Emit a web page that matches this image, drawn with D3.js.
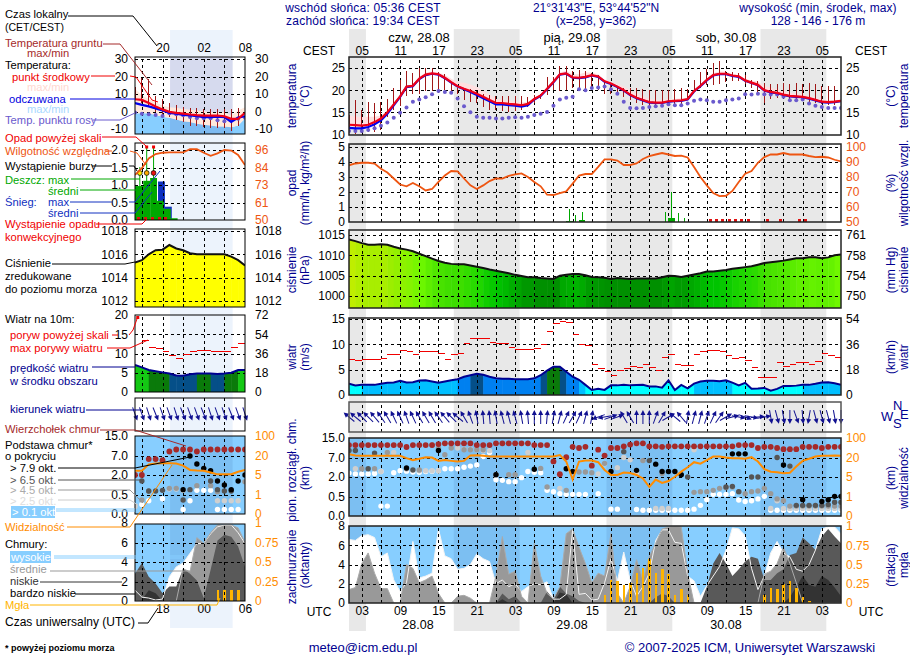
<!DOCTYPE html>
<html>
<head>
<meta charset="utf-8">
<title>meteogram</title>
<script src="https://cdn.jsdelivr.net/npm/d3@7"></script>
<style>
body { margin: 0; background: #fff; }
svg { display: block; }
text { font-family: "Liberation Sans", Arial, sans-serif; font-size: 12px; }
.grid line { stroke: #000; stroke-width: 1; stroke-dasharray: 3 3; shape-rendering: crispEdges; }
.grid path, .lab path { display: none; }
.lab line { display: none; }
.crisp { shape-rendering: crispEdges; }
</style>
</head>
<body>
<svg id="chart" width="910" height="660"></svg>
<script>
// hourly values, main panel: hour 0 = 01 UTC 28.08, last = 06 UTC 31.08
var tempMid = [12.2,12.1,12,12.2,12.8,13.6,15,16.8,18.6,20.8,21,22.6,23.5,23.8,23.6,22.8,21.8,20.9,20.3,19.8,19.2,18.5,17.8,17.1,17.1,16.9,16.8,16.6,16.9,18,18.8,20.3,21.9,23.6,23.8,22.9,22.8,23,23.4,23.1,22,21.5,20.8,20,19,18.3,17.8,17.3,17.2,17.2,17.5,17.6,17.7,18,19.8,21,22.3,23.4,23.7,23.7,23.3,23.1,22.2,21.7,21.2,20,19.6,19.4,19,18.7,18.6,18.5,18.2,17.8,17.4,17.3,17.4,17.6];
var tempMax = [14.3,14,14,14,14,14.3,15.4,17.2,19,21,21.4,23,24,24.2,24,23.4,22.6,21.8,21.7,21.3,20.7,19.9,19,18,17.8,17.6,17.4,17.2,17.4,18.3,19,20.6,22.2,24,24.4,23.6,23.6,24,24,23.6,22.4,21.8,21.4,20.8,20,19.2,18.6,18,17.8,17.8,18,18,18.2,18.3,20,21.3,22.7,23.9,24.2,24.2,23.6,23.3,22.6,22.2,21.9,21,20.6,20.2,19.8,19.4,19.2,19,18.7,18.2,17.8,17.6,17.7,17.9];
var tempFeels = [11.5,11.4,11.4,11.7,12.3,13.2,14.7,16.6,18.5,20.7,20.9,22.5,23.4,23.7,23.5,22.7,21.7,20.8,20.2,19.6,18.9,18.2,17.5,16.8,16.8,16.6,16.5,16.3,16.6,17.9,18.7,20.2,21.8,23.5,23.7,22.8,22.7,22.9,23.3,23,21.9,21.4,20.7,19.9,18.9,18.2,17.7,17.2,17.1,17.1,17.4,17.5,17.6,17.9,19.7,20.9,22.2,23.3,23.6,23.6,23.2,23,22.1,21.6,21.1,19.9,19.5,19.3,18.9,18.6,18.5,18.4,18.1,17.7,17.3,17.2,17.3,17.5];
var tempDew = [10.8,10.8,10.8,11,11.4,12,12.7,13.8,14.9,16.1,17.4,17.9,18.4,19.1,19.8,19.6,19.4,18.1,16.4,15,14,13.8,13.8,13.6,13.6,13.8,13.9,13.8,14,14.4,14.7,15.1,16.5,17.9,18.3,18.5,20.2,20,20.5,20.6,20.8,20.2,19.2,17.4,16,15.9,16,16.2,16.4,16.5,16.8,16.6,16.6,17,17.6,17.9,17.7,17.4,17.4,17.7,17.9,18.1,19.1,19,19.2,19.1,19,19,18.5,17.7,17.7,17.9,17,16.5,16.2,16,16,16];
var groundMax = [14.5,17.7,15.5,17.4,17,17.4,17.9,20.4,22.2,24.4,23.8,24.9,25.1,24.9,24.1,23.6,21.7,20.6,20,20.3,19.8,19.2,18.9,18.6,18.7,18.7,18.6,18.6,18.5,18.9,19.1,22.9,23,25.4,25.4,24.3,24.5,24.4,23.9,23.4,21.9,21.5,20.6,20.6,20.4,20.4,20.2,20,20.1,20.1,20,20.2,20.4,20.2,22.2,24.1,24.7,26.2,26.5,24.4,24.1,23.9,23.4,22.2,22.1,21.7,21.4,21.5,21.7,21.5,21.7,21.5,21.7,21.3,21,21,20.9,20.6];
var groundMin = [10.6,10.2,10.4,10.6,10.6,11,14,15.5,16.4,18.7,19.2,19.1,19.8,19.8,20,20,19.8,19.1,17.7,17.4,17,16.2,15.6,15.5,15.3,15.1,15.3,15.5,16.2,17,18.1,18.9,20,19.8,20,20.4,20.4,20.2,20.4,20,19.2,19.2,18.9,18.5,17.7,17,16.6,16.2,16.1,16.2,16.6,16.6,16.6,17.7,20,20.6,21.1,21.1,21.5,21.9,22.1,22.1,21.4,20.4,18.9,17,18.1,18.3,18.5,17.7,17.7,17.7,17.3,17,16.9,16.6,16.6,16.6];
var humidity = [87.8,89,89.5,89.5,88.9,85.5,83,79,75,73.8,76,73.8,71,72,76.7,81,84,83.8,79,74.4,72,74.4,77.3,79,78.9,80.7,81.8,82.4,80,76.7,73.8,68.2,68,69.3,70.4,75.6,81,82,82,86.7,91.8,91.8,91,88,88,89,92,94,95,96,95,94,94.2,93,86.7,80,74.4,69.3,67.3,67.5,70.7,76.7,82.2,84,89.5,93.3,95,95,96,95,95,95,94,93.3,93.5,93,91.5,90.4];
var rainMax = [[34.5,0.9],[35.5,0.45],[36.5,0.65],[49.5,0.65],[50.5,2],[51.5,0.6],[52.5,0.3]];
var rainMean = [[34.5,0.08],[36.5,0.12],[50.5,0.25]];
var convHours = [56.5,57.5,58.5,59.5,60.5,61.5,62.5,65.5,67.5,70.5,71.5];
var pressure = [1013.9,1013.5,1013,1012.6,1012.6,1012.7,1012.6,1012.1,1011.7,1011.4,1011,1010.4,1009.8,1009.2,1008.6,1008.2,1007.9,1007.8,1007.8,1007.5,1007.2,1006.9,1006.5,1006.2,1005.9,1005.6,1005.2,1004.9,1004.6,1004.6,1004.4,1004.3,1004.2,1005,1005.2,1005.4,1005.4,1005.1,1004.7,1004.6,1004.5,1004.2,1004.4,1004.3,1004.2,1004.3,1004.3,1004.3,1004.3,1004.6,1005,1004.9,1004.7,1005,1005.3,1005.6,1006,1006,1006.2,1006.4,1006.7,1006.9,1007.1,1007.3,1007.7,1008.1,1008.3,1008.5,1008.7,1009,1009.3,1009.3,1009.5,1009.5,1009.3,1009.5,1010,1010.2];
var windSpeed = [2.25,1.9,2,2,2,2.2,2.4,2.45,2.8,2.45,2.5,2.85,2.9,2.65,2.4,2.65,2.9,3.1,3.6,3.9,4.2,4,3.6,3.3,3.2,3.2,3.1,3.1,3.1,3.3,3.9,4.8,5.6,5.6,4.6,3.6,3,2,1,1.25,1,1.9,1.9,2,1.9,1.95,2,1.7,1.7,1.45,2.9,1,2,1.3,2.25,2.65,2.8,2.8,2.7,2.9,2.45,1.9,2.4,1.25,1.3,1.4,0.85,1.2,1.8,1.8,1.85,2,2,2.2,2.45,2.5,2.3,2];
var windGust = [7.1,6.9,7.1,7.1,7.1,7.3,7.9,7.9,8.85,8.65,7.9,8.65,8.65,8.65,8.1,7.1,7.9,8.1,10.1,11.1,11.1,11.1,10.4,10.25,10.1,9.45,9.05,9.05,9.05,9.25,9.9,12.6,14.2,14.6,14.3,12,10,9.85,6.1,5.3,4.55,3.9,4.9,5.3,5.7,5.5,6.1,5.5,4.75,7.5,7.9,6.1,5.9,5.9,7.9,8.5,8.85,8.85,8.65,7.7,7.3,7.5,6.9,5.5,3.5,3.4,3.5,6.5,5.7,6.1,6.5,6.5,6.1,6.7,8.1,7.7,7.5];
var windAngle = [-50,-50,-45,-45,-40,-35,-30,-25,-25,-20,-25,-30,-30,-30,-35,-40,-45,-50,-30,-20,-10,-5,-5,-10,-15,-15,-15,-10,-5,0,0,5,10,15,25,30,25,15,10,-110,-100,70,70,-30,-30,0,0,0,20,30,60,-50,-40,10,15,15,20,25,35,60,75,100,110,100,85,80,170,165,170,180,160,175,190,165,165,165,170,180];
var baseTop = [12.1,12.1,12.1,12.1,12.1,12.1,12.1,12.1,12.1,11.3,12.1,12.1,12.1,12.1,12.5,12.8,12.8,12.8,12.8,12.8,12.1,12.1,12.1,12.8,12.8,12.8,12.8,12.8,12.8,12.1,12.1,12.1,6,2.7,7.1,11.4,10.9,11.4,4.9,10.2,7.8,10.9,10.9,11.6,12.3,12.8,12.8,11.6,11.6,11.4,11.6,11.6,11.6,11.6,11.6,11.6,11.6,11.6,11.6,11.6,11.6,12.1,12.1,12.1,10.9,11.4,11.4,10.9,10.4,10.4,10.4,11.4,11.4,11.4,10.9,11.4,11.4,11.4];
var baseBlack = [[9,4.3],[14,9.9],[23,2.6],[29,4],[34,4.1],[35,3.4],[41,3.4],[45,3.7],[48,5.3],[49,3.4],[50,3.4],[51,3.4],[52,2.6],[60,8.5],[61,8.5],[62,8.5],[68,5.1],[71,0.43],[74,0.38],[75,0.43],[76,0.55],[77,0.55]];
var baseDark = [[0,9.9],[1,9.9],[3,4.1],[4,8.8],[10,3.8],[43,9.4],[47,6.2],[53,2],[59,1.25],[60,1.3],[61,0.9],[63,2],[64,2],[67,7],[69,4.8],[70,0.28],[71,0.28],[72,0.28],[73,0.28],[74,0.28],[75,0.3],[76,0.36],[77,0.36]];
var baseGrey = [[2,4.1],[4,4.1],[9,4.1],[11,3.8],[6,9.1],[13,12.1],[14,10.7],[15,8.1],[16,10.9],[18,10.2],[19,10.2],[20,10.2],[21,10.2],[23,2.6],[25,2.6],[26,2.6],[30,4.2],[31,1.25],[34,1],[36,3.3],[37,3.3],[38,3.1],[40,5.5],[46,6.2],[49,2.9],[54,0.85],[55,0.9],[56,0.9],[57,1],[58,1.15],[59,1.2],[60,1.25],[61,0.9],[62,0.75],[63,0.9],[64,0.95],[65,1.15],[66,0.75],[67,0.45],[68,0.4],[69,0.26],[70,0.26],[71,0.26],[72,0.26],[73,0.26],[74,0.26],[75,0.26],[76,0.26],[77,0.26]];
var baseLight = [[1,4.1],[5,3.4],[6,9.1],[7,9.1],[11,3.6],[12,3.6],[13,3.6],[14,3.6],[17,10.9],[18,10.4],[19,10.4],[20,10.2],[21,9.8],[22,9.8],[28,9.1],[33,1.15],[39,2.8],[40,5.4],[42,4.4],[43,7],[44,6.4],[45,2.9],[48,0.2],[49,0.2],[50,0.2],[54,10.2],[66,0.2],[67,0.4],[68,0.2],[69,0.2],[70,0.2],[71,0.2],[72,0.2],[73,0.2],[74,0.2],[75,0.2],[76,0.2],[77,0.2]];
var baseWhite = [[0,3],[1,2.8],[2,2.8],[3,2.8],[4,2.9],[5,3.4],[5,0.26],[6,0.26],[7,3.1],[8,3.6],[9,3.5],[10,3.3],[11,3.2],[12,3.4],[13,3.5],[14,3.6],[15,4.1],[16,4.1],[17,4.1],[18,4.5],[19,4.8],[20,5.1],[21,7.4],[22,9.1],[23,1.8],[24,1.75],[25,1.65],[26,1.65],[27,1.95],[28,3.4],[29,3.2],[30,3.1],[31,1],[32,0.9],[33,0.75],[34,0.7],[35,0.7],[36,0.7],[37,0.7],[39,0.75],[41,0.18],[42,0.18],[45,0.17],[46,0.15],[47,0.15],[48,0.15],[49,0.15],[50,0.15],[51,0.15],[52,0.15],[53,0.15],[54,0.18],[55,0.28],[56,0.43],[57,0.7],[58,0.7],[59,0.7],[60,0.75],[61,0.42],[62,0.38],[63,0.4],[64,0.45],[65,0.55],[66,0.15],[67,0.15],[68,0.15],[69,0.15],[70,0.15],[71,0.15],[72,0.15],[73,0.15],[74,0.15],[75,0.15],[76,0.15],[77,0.15]];
var visibility = [33.8,28,27,27,27,27,27,27,27,19.5,18,19,21.4,20,17.4,18,17.4,16.9,17.4,28,29.7,27,24,24,24,24,24,24,24,24,24,24,24,29.7,16.9,4.5,16.9,17.6,17.6,16.4,10.4,6.6,6.6,8.4,8,6.6,4.7,3,4.5,3.8,4.2,5.2,9.1,12.5,16.4,15.3,18,24,24,20,19.5,19.5,19,21.4,16.9,11,9.1,8.6,7.8,8.2,13,17.4,19,24,27,27,28,27];
var cloudHigh = [6.6,6.5,7,7.1,6.8,4.8,5.2,2.4,1.2,2.1,6.4,2.6,2.8,3.1,7.7,4.9,4.6,3.5,3.6,4,5.1,4.6,4.3,2,2.4,1.7,2,1.2,1.7,2,1.9,2.2,0.4,0.4,0.9,7.6,0.9,1,0.3,0.4,2.1,4.6,2.3,5.3,2.4,0.7,1.7,3.1,6.5,7.6,7.6,6.3,6.2,2.8,2.3,0.7,1.8,2.8,3.8,5.5,7.8,7.7,7,3.6,1.4,2.8,5.2,6.4,5.2,4.8,3.5,3.3,4,5.5,7.7,7.9,7.9,7.2];
var cloudMid = [1.4,1.6,4.1,5.2,3.1,1.5,1.5,0,0,4,3.6,2.1,2.4,2.8,1,0,0,0.7,0.8,0.5,0,0,0,2.8,6.9,3,3.3,0.7,0,6.2,2.8,1,0.4,1.7,7.2,7.7,5.8,4.1,2.1,3.1,2.8,7.2,1,0,1.7,4.5,2.4,4.8,6.2,7.7,7.9,8,7.9,3.1,0,0,0,0,0,0,0,0,0,0,0,3,3.3,4.1,5.8,4.1,2.1,0,0,0,0,0,0,0];
var cloudLow = [0,0,0,0,0,0,0,0,0,0,0,0,0,0,0,0,0,0,0,0,0,0,0,0,1,0.4,0.7,0,0,0,0,1.2,0.4,1.7,1,0.7,0.2,0,0,0,0,0,0,0,0,0,0,0,0.6,1,0.7,0,0,0,0,0,1.7,4.1,5.2,4.1,2.8,3.5,4.3,4.8,4.6,2.4,2.4,3.1,3.5,5,5.2,6.8,6.2,5.5,6.9,7.7,6.9,6.2];
var cloudVeryLow = [0,0,0,0,0,0,0,0,0,0,0,0,0,0,0,0,0,0,0,0,0,0,0,0,0.4,0,0,0,0,0,0,0,0,1.1,0.9,0,0,0,0,0,0,0,0,0,0,0,0,0,0,0,0,0,0,0,0,0,0,0,0,0,0,0,0,0,0,0,0,0,0,0.6,1.7,2.8,1.9,1.7,2.8,2.4,1.6,0.7];
var fogBars = [[40,0.11],[41,0.3],[42,0.28],[43,0.23],[44,0.26],[45,0.39],[46,0.45],[47,0.57],[48,0.39],[49,0.44],[50,0.38],[51,0.1],[52,0.18],[53,0.11],[65,0.1],[66,0.2],[67,0.18],[68,0.25],[69,0.28],[70,0.2],[71,0.08],[72,0.03]];

// left legend panel: hour 0 = 14 UTC, 16 hours
var leftMid = [7,6.6,4.8,2.9,1.2,-0.2,-0.8,-1.2,-1.7,-2.1,-2.3,-2.3,-2.3,-2.7,-4.2,-4.2,-0.8];
var leftMax = [13,9.1,7.2,5.3,3.4,2.5,2.1,1.5,0.95,0.6,0.2,-0.4,-0.4,-0.4,-2.3,0.6,2.5];
var leftFeels = [4.8,3.8,2.9,1.8,0.6,-0.8,-1.3,-1.9,-2.3,-2.7,-3.2,-3.2,-2.9,-3.2,-6,-3.5,-2.7];
var leftLow = [-1,-1,-1,-2,-3,-3.5,-4.5,-5.5,-6,-7,-7.5,-8,-8.5,-8.5,-9,-8,-4];
var leftDew = [-0.5,-1.3,-1.6,-2,-2.6,-1,-1.6,-2.2,-3.2,-3.8,-3.8,-3.8,-5,-5.6,-5,-4.2,-3.5];
var leftGroundMax = [14,19,18.5,9,7,5,4,2.5,2,2,1.5,1.5,1.5,1.5,1.5,2,2.5];
var leftGroundMin = [7,5,3,0,-2,-3,-5,-6,-8,-8.5,-9,-9.5,-9.5,-9.5,-11,-8,-3];
var leftHumidity = [79.6,84,90.5,93.3,94.2,94.4,94.4,94.4,96.6,96.6,94.2,92.2,93.8,96,95.6,92.7,86.1];
var leftRain = [0.97,1.12,1.2,0.55,0.32,0.05];
var leftSnow = [0,0,0,1.1,0.38,0];
var leftStormHours = [0.5,1.5,2.5];
var leftStormColors = ["#ffee00","#ffaa00","#ee1111"];
var leftRainOver = [1.5,2.5];
var leftConv = [0.5,1.5,2.5,3.5,4.5];
var leftPressure = [1015.3,1015.5,1016,1016.35,1016.4,1016.8,1016.5,1016.35,1016.1,1016,1016,1016,1016,1016,1015.8,1015.5,1015.05];
var leftWind = [7,6.4,5.7,5.4,5.1,4.8,4.3,4.2,4.6,4.8,4.8,4.8,4.7,4.8,5,5.7,5.7];
var leftGust = [null,13.5,11.6,11.4,10.5,9.5,8.8,9.65,10.5,10.8,10.8,10.5,10.5,10.5,11.6,12.6,13];
var leftGustOver = [0.4];
var leftAngle = [160,160,162,158,160,160,162,158,160,160,158,162,160,160,158,160,162];
var leftBaseTop = [[0,2],[1,2],[2,6.2],[3,6.2],[4,5.9],[5,8.8],[6,9.6],[7,9.6],[8,9.6],[9,8.8],[10,9.6],[11,9.6],[12,9.6],[13,9.6],[14,9.6],[15,9.6],[16,9.6]];
var leftBaseBlack = [[7,0.9],[8,7],[9,4.9],[10,3.75],[11,3.1],[12,1.55],[13,1.25],[14,0.9],[15,1.55],[16,2]];
var leftBaseDark = [[1,1.55],[2,0.8],[3,0.8],[4,0.85],[7,0.37],[8,0.9],[11,1.55],[12,0.9],[13,0.8],[14,0.8]];
var leftBaseGrey = [[1,0.37],[2,0.78],[5,1],[6,1],[9,1.2],[11,1.2],[12,0.75],[16,1.5]];
var leftBaseLight = [[0,0.2],[5,0.95],[6,0.95],[7,0.85],[12,0.35],[13,0.35],[14,0.35],[15,0.35]];
var leftBaseWhite = [[1,0.25],[2,0.35],[4,0.4],[7,0.12],[8,0.35],[9,0.85],[10,0.85],[11,0.85],[12,0.12],[13,0.12],[14,0.12],[15,0.12]];
var leftVisibility = [8.4,8.4,13.4,14,14.2,14.2,14,12.4,9,8.6,8.4,7,5.5,5.5,5.6,7.6,8.9];
var leftCloudHigh = [1.1,0.4,0.3,0.1,0.2,2.5,3.5,3.9,4.9,5.9,5.9,6.9,7.6,7.8,7.8,7,5.9];
var leftCloudMid = [0,0,0,0,0,0,0,3.3,3,6.5,5.9,7,7.8,7.8,7.8,7.5,6];
var leftCloudLow = [2.8,3.9,2.5,1.8,0.8,1.5,1.5,3.3,2.8,2.1,0.3,3.2,6.2,6.8,6.6,5.6,3.5];
var leftCloudVeryLow = [0,0.1,1.1,0.8,0,0,0,0,0,0,0,0,0,0,0,0,0];
var leftFog = [[12,0.14],[13,0.14],[14,0.14],[15,0.14]];

// tick labels
var cestLabels = ["05","11","17","23","05","11","17","23","05","11","17","23","05"];
var utcLabels = ["03","09","15","21","03","09","15","21","03","09","15","21","03"];
var labelHours = [2,8,14,20,26,32,38,44,50,56,62,68,74];
var gridHours = [2,5,8,11,14,17,20,23,26,29,32,35,38,41,44,47,50,53,56,59,62,65,68,71,74];
var leftGridHours = [1,4,7,10,13];
var leftLabelHours = [4,10,16];
var leftCestLabels = ["20","02","08"];
var leftUtcLabels = ["18","00","06"];
var tempTicks = [10,15,20,25];
var rainTicks = [0,1,2,3,4,5];
var humidityLabels = ["50","60","70","80","90","100"];
var pressureTicks = [1000,1005,1010,1015];
var mmHgLabels = ["750","754","758","761"];
var windTicks = [0,5,10,15];
var kmhLabels = ["0","18","36","54"];
var baseTicks = [0,0.5,2,7,15];
var baseLabels = ["0.0","0.5","2.0","7.0","15.0"];
var visLabels = ["0","1","5","20","100"];
var oktaTicks = [0,2,4,6,8];
var fogLabels = ["0","0.25","0.5","0.75","1"];
var leftTempTicks = [-10,0,10,20,30];
var leftRainTicks = [0,0.5,1,1.5,2];
var leftRainLabels = ["0.0","0.5","1.0","1.5","2.0"];
var leftHumLabels = ["50","61","73","84","96"];
var leftPressureTicks = [1012,1014,1016,1018];
var leftWindTicks = [0,5,10,15,20];
var leftKmhLabels = ["0","18","36","54","72"];

var NAVY = "#000090", ORANGE = "#ff8c00", HUM = "#ee5511", BROWN = "#a52a2a", DEW = "#6a5acd";
var PINK = "#ffdfe0", SKY = "#87ceff";

var svg = d3.select("#chart");
var clipCount = 0;

function txt(x, y, s, color, anchor) {
    return svg.append("text").attr("x", x).attr("y", y)
        .attr("fill", color || "#000").attr("text-anchor", anchor || "start").text(s);
}

// legend captions are a bit narrower than the axis text
function cap(x, y, s, color, size) {
    return txt(x, y, s, color).style("font-size", (size || 11.2) + "px");
}

function rot(x, y, s, color) {
    return svg.append("text").attr("transform", "translate(" + x + "," + y + ") rotate(-90)")
        .attr("fill", color || NAVY).attr("text-anchor", "middle").text(s);
}

function leader(points, color, width) {
    svg.append("path").attr("d", d3.line()(points)).attr("fill", "none")
        .attr("stroke", color).attr("stroke-width", width || 1);
}

// one framed plot: clip group, y axis labels on both sides, dashed grid
function makePanel(x, y, top, opts) {
    var x0 = x.range()[0], x1 = x.range()[1];
    var bottom = opts.bottom;
    var id = "clip" + (clipCount++);
    svg.append("clipPath").attr("id", id).append("rect")
        .attr("x", x0).attr("y", top).attr("width", x1 - x0).attr("height", bottom - top);
    var g = svg.append("g").attr("clip-path", "url(#" + id + ")");
    return {
        g: g, x: x, y: y, top: top, bottom: bottom, x0: x0, x1: x1,
        grid: function () {
            g.append("g").attr("class", "grid").attr("transform", "translate(" + x0 + ",0)")
                .call(d3.axisLeft(y).tickValues(opts.gridY || opts.ticks).tickSize(-(x1 - x0)).tickFormat(""));
            g.append("g").attr("class", "grid").attr("transform", "translate(0," + bottom + ")")
                .call(d3.axisBottom(x).tickValues(opts.gridX).tickSize(-(bottom - top)).tickFormat(""));
        },
        finish: function () {
            svg.append("rect").attr("x", x0).attr("y", top).attr("width", x1 - x0).attr("height", bottom - top)
                .attr("fill", "none").attr("stroke", opts.frame || "#222").attr("stroke-width", opts.frameWidth || 1.5);
            var la = svg.append("g").attr("class", "lab").attr("transform", "translate(" + opts.leftX + ",0)")
                .call(d3.axisLeft(y).tickValues(opts.ticks).tickSize(0).tickPadding(0)
                    .tickFormat(function (d, i) { return opts.leftLabels ? opts.leftLabels[i] : d; }));
            la.selectAll("text").attr("fill", "#000");
            var ra = svg.append("g").attr("class", "lab").attr("transform", "translate(" + opts.rightX + ",0)")
                .call(d3.axisRight(y).tickValues(opts.ticks).tickSize(0).tickPadding(0)
                    .tickFormat(function (d, i) { return opts.rightLabels ? opts.rightLabels[i] : d; }));
            ra.selectAll("text").attr("fill", opts.rightColor || "#000");
            la.selectAll("text").style("font-size", "12px");
            ra.selectAll("text").style("font-size", "12px");
        }
    };
}

function nightOverlay(p, bands, color) {
    p.g.selectAll(null).data(bands).enter().append("rect")
        .attr("x", function (d) { return p.x(d[0]); }).attr("y", p.top)
        .attr("width", function (d) { return p.x(d[1]) - p.x(d[0]); }).attr("height", p.bottom - p.top)
        .attr("fill", color);
}

function drawTemp(p, d) {
    var x = p.x, y = p.y;
    if (d.low) {
        p.g.append("path").datum(d.low)
            .attr("d", d3.area().x(function (v, i) { return x(i); }).y0(p.bottom).y1(function (v) { return y(v); }))
            .attr("fill", SKY);
        nightOverlay(p, d.bands, d.overlay);
    }
    p.g.append("path").datum(d.max)
        .attr("d", d3.area().x(function (v, i) { return x(i); })
            .y0(function (v, i) { return y((d.low || d.mid)[i]); }).y1(function (v) { return y(v); }))
        .attr("fill", d.low ? "#ffe8dc" : PINK);
    p.grid();
    p.g.selectAll(null).data(d.gmax).enter().append("line").attr("class", "crisp")
        .attr("x1", function (v, i) { return x(i); }).attr("x2", function (v, i) { return x(i); })
        .attr("y1", function (v) { return y(v); }).attr("y2", function (v, i) { return y(d.gmin[i]); })
        .attr("stroke", "#a01818").attr("stroke-width", 1);
    p.g.selectAll(null).data(d.dew).enter().append("circle")
        .attr("cx", function (v, i) { return x(i); }).attr("cy", function (v) { return y(v); })
        .attr("r", 2).attr("fill", DEW);
    var line = d3.line().x(function (v, i) { return x(i); }).y(function (v) { return y(v); });
    p.g.append("path").datum(d.feels).attr("d", line).attr("fill", "none").attr("stroke", "#0000f0").attr("stroke-width", 2.2);
    p.g.append("path").datum(d.mid).attr("d", line).attr("fill", "none").attr("stroke", "#f00018").attr("stroke-width", 2.2);
    p.finish();
}

function drawColumns(p, vals, colorOf) {
    var x = p.x, y = p.y, id = "clip" + (clipCount++);
    svg.append("clipPath").attr("id", id).append("path").datum(vals)
        .attr("d", d3.area().x(function (v, i) { return x(i); }).y0(p.bottom).y1(function (v) { return y(v); }));
    p.g.append("g").attr("clip-path", "url(#" + id + ")").selectAll("rect").data(vals.slice(0, -1)).enter().append("rect")
        .attr("x", function (v, i) { return x(i); }).attr("y", p.top)
        .attr("width", function (v, i) { return x(i + 1) - x(i) + 0.5; }).attr("height", p.bottom - p.top)
        .attr("fill", function (v, i) { return colorOf(Math.min(v, vals[i + 1])); });
}

function drawArrows(p, angles, yMid) {
    var x = p.x;
    var arrows = svg.append("g").selectAll("g").data(angles).enter().append("g")
        .attr("transform", function (v, i) { return "translate(" + x(i) + "," + yMid + ") rotate(" + v + ")"; });
    arrows.append("line").attr("y1", 7).attr("y2", -3).attr("stroke", "#101090").attr("stroke-width", 1);
    arrows.append("path").attr("d", "M0,-7L-2.5,-2L2.5,-2Z").attr("fill", "#101090");
}

function drawDots(p, pairs, color, r) {
    p.g.selectAll(null).data(pairs).enter().append("circle")
        .attr("cx", function (d) { return p.x(d[0]); }).attr("cy", function (d) { return p.y(d[1]); })
        .attr("r", r || 2.7).attr("fill", color);
}

function drawClouds(p, d) {
    var x = p.x, y = p.y;
    var area = d3.area().x(function (v, i) { return x(i); }).y0(p.bottom).y1(function (v) { return y(v); });
    var line = d3.line().x(function (v, i) { return x(i); }).y(function (v) { return y(v); });
    p.g.append("rect").attr("x", p.x0).attr("y", p.top).attr("width", p.x1 - p.x0).attr("height", p.bottom - p.top).attr("fill", SKY);
    nightOverlay(p, d.bands, d.overlay);
    p.g.append("path").datum(d.high).attr("d", area).attr("fill", "#fff");
    p.g.append("path").datum(d.mid).attr("d", area).attr("fill", "#999");
    p.g.append("path").datum(d.low).attr("d", area).attr("fill", "#595959");
    p.g.append("path").datum(d.veryLow).attr("d", area).attr("fill", "#333");
    p.g.append("path").datum(d.high).attr("d", line).attr("fill", "none").attr("stroke", "#f4f4f4").attr("stroke-width", 1);
    p.g.append("path").datum(d.mid).attr("d", line).attr("fill", "none").attr("stroke", "#aaa").attr("stroke-width", 1);
    var yf = d.yFog;
    p.g.selectAll(null).data(d.fog).enter().append("rect").attr("class", "crisp")
        .attr("x", function (v) { return x(v[0]) - 1; }).attr("width", 2.5)
        .attr("y", function (v) { return yf(v[1]); }).attr("height", function (v) { return p.bottom - yf(v[1]); })
        .attr("fill", "#ffb400");
    p.grid();
    p.finish();
}

function drawBase(p, d) {
    var x = p.x;
    p.g.append("rect").attr("x", p.x0).attr("y", p.top).attr("width", p.x1 - p.x0).attr("height", p.bottom - p.top).attr("fill", SKY);
    nightOverlay(p, d.bands, d.overlay);
    p.grid();
    drawDots(p, d.white, "#fff");
    drawDots(p, d.light, "#cfcfcf");
    drawDots(p, d.grey, "#999");
    drawDots(p, d.dark, "#555");
    drawDots(p, d.black, "#000");
    drawDots(p, d.top, "#a52a2a", 2.9);
    p.g.append("path").datum(d.vis)
        .attr("d", d3.line().x(function (v, i) { return x(i); }).y(function (v) { return d.yVis(v); }))
        .attr("fill", "none").attr("stroke", ORANGE).attr("stroke-width", 2);
    p.finish();
}

function drawGusts(p, vals) {
    p.g.selectAll(null).data(vals).enter().append("line").attr("class", "crisp")
        .attr("display", function (v) { return v === null ? "none" : null; })
        .attr("x1", function (v, i) { return p.x(i); }).attr("x2", function (v, i) { return p.x(i + 1); })
        .attr("y1", function (v) { return p.y(v); }).attr("y2", function (v) { return p.y(v); })
        .attr("stroke", "#f00000").attr("stroke-width", 1);
}

var windColor = d3.scaleThreshold().domain([2, 3, 3.9, 4.75, 5.65])
    .range(["#00ffff", "#00bfff", "#0080f0", "#054f88", "#0a7a0a", "#14c814"]);
var pressColor = d3.scaleLinear().domain([1004.4, 1005, 1006, 1007, 1008, 1010, 1012, 1014, 1015, 1016.7, 1016.8])
    .range(["#009000", "#00a800", "#00c400", "#22d800", "#44e000", "#70f800", "#99ee00", "#ccee00", "#ffff00", "#ffff00", "#ffcc00"]).clamp(true);

// ---------- backgrounds ----------
var xMain = d3.scaleLinear().domain([0, 77]).range([349, 841]);
var xLeft = d3.scaleLinear().domain([0, 16]).range([135, 245]);
var nightMain = [[0, 2.65], [16.4, 26.7], [40.3, 50.6], [64.4, 74.7]];
var nightLeft = [[5.1, 14.2]];

svg.selectAll("rect.night").data(nightMain).enter().append("rect").attr("class", "night")
    .attr("x", function (d) { return xMain(d[0]); }).attr("y", 29)
    .attr("width", function (d) { return xMain(d[1]) - xMain(d[0]); }).attr("height", 602).attr("fill", "#e8e8e8");
svg.selectAll("rect.nightl").data(nightLeft).enter().append("rect").attr("class", "nightl")
    .attr("x", function (d) { return xLeft(d[0]); }).attr("y", 30)
    .attr("width", function (d) { return xLeft(d[1]) - xLeft(d[0]); }).attr("height", 598).attr("fill", "#ecf3fc");

// ---------- main plots ----------
var mainOpts = { gridX: gridHours, leftX: 345, rightX: 846 };
function optsOf(base, extra) { return Object.assign({}, base, extra); }

var pTemp = makePanel(xMain, d3.scaleLinear().domain([10, 25]).range([134.5, 68]), 57, optsOf(mainOpts, { bottom: 135, ticks: tempTicks, gridY: [15, 20, 25] }));
drawTemp(pTemp, { mid: tempMid, max: tempMax, feels: tempFeels, dew: tempDew, gmax: groundMax, gmin: groundMin });

var pRain = makePanel(xMain, d3.scaleLinear().domain([0, 5]).range([222, 147]), 144, optsOf(mainOpts, { bottom: 222, ticks: rainTicks, rightLabels: humidityLabels, rightColor: HUM }));
pRain.grid();
var yHum = d3.scaleLinear().domain([50, 100]).range([222, 147]);
pRain.g.selectAll(null).data(rainMax).enter().append("rect").attr("class", "crisp")
    .attr("x", function (d) { return xMain(d[0]) - 0.5; }).attr("width", 1)
    .attr("y", function (d) { return pRain.y(d[1]); }).attr("height", function (d) { return 222 - pRain.y(d[1]); }).attr("fill", "#00a800");
pRain.g.selectAll(null).data(rainMean).enter().append("rect").attr("class", "crisp")
    .attr("x", function (d) { return xMain(d[0] - 0.5); }).attr("width", xMain(1) - xMain(0))
    .attr("y", function (d) { return pRain.y(d[1]); }).attr("height", function (d) { return 222 - pRain.y(d[1]); }).attr("fill", "#00a800");
pRain.g.selectAll(null).data(convHours).enter().append("rect").attr("class", "crisp")
    .attr("x", function (d) { return xMain(d) - 1.5; }).attr("y", 219).attr("width", 3).attr("height", 3).attr("fill", "#e01010");
pRain.g.append("path").datum(humidity)
    .attr("d", d3.line().x(function (v, i) { return xMain(i); }).y(function (v) { return yHum(v); }))
    .attr("fill", "none").attr("stroke", HUM).attr("stroke-width", 1.8);
pRain.finish();

var pPress = makePanel(xMain, d3.scaleLinear().domain([1000, 1015]).range([296, 235]), 230, optsOf(mainOpts, { bottom: 308, ticks: pressureTicks, rightLabels: mmHgLabels }));
drawColumns(pPress, pressure, pressColor);
pPress.grid();
pPress.g.append("path").datum(pressure)
    .attr("d", d3.line().x(function (v, i) { return xMain(i); }).y(function (v) { return pPress.y(v); }))
    .attr("fill", "none").attr("stroke", "#111").attr("stroke-width", 2);
pPress.finish();

var pWind = makePanel(xMain, d3.scaleLinear().domain([0, 15]).range([395, 319]), 318, optsOf(mainOpts, { bottom: 395, ticks: windTicks, rightLabels: kmhLabels }));
drawColumns(pWind, windSpeed, windColor);
pWind.grid();
pWind.g.append("path").datum(windSpeed)
    .attr("d", d3.line().x(function (v, i) { return xMain(i); }).y(function (v) { return pWind.y(v); }))
    .attr("fill", "none").attr("stroke", "#000090").attr("stroke-width", 2);
drawGusts(pWind, windGust);
pWind.finish();

var pDir = makePanel(xMain, d3.scaleLinear().domain([0, 1]).range([432, 402]), 402, { bottom: 432, ticks: [], gridX: gridHours, leftX: 345, rightX: 846, frame: "#555", frameWidth: 1.5 });
pDir.grid();
drawArrows(pDir, windAngle, 417);
pDir.finish();

var pBase = makePanel(xMain, d3.scaleLinear().domain(baseTicks).range([516, 497, 477, 457.5, 438]), 438, optsOf(mainOpts, { bottom: 516, ticks: baseTicks, leftLabels: baseLabels, rightLabels: visLabels, rightColor: ORANGE, gridY: [0.5, 2, 7] }));
drawBase(pBase, {
    bands: nightMain, overlay: "rgba(0,30,90,0.08)", white: baseWhite, light: baseLight, grey: baseGrey, dark: baseDark, black: baseBlack,
    top: baseTop.map(function (v, i) { return [i, v]; }), vis: visibility,
    yVis: d3.scaleLinear().domain([0, 1, 5, 20, 100]).range([516, 497, 477, 457.5, 438])
});

var pCloud = makePanel(xMain, d3.scaleLinear().domain([0, 8]).range([603, 526]), 526, optsOf(mainOpts, { bottom: 603, ticks: oktaTicks, rightLabels: fogLabels, rightColor: ORANGE, gridY: [2, 4, 6] }));
drawClouds(pCloud, {
    bands: nightMain, overlay: "rgba(0,30,90,0.08)", high: cloudHigh, mid: cloudMid, low: cloudLow, veryLow: cloudVeryLow, fog: fogBars,
    yFog: d3.scaleLinear().domain([0, 1]).range([603, 526])
});

// ---------- legend plots ----------
var leftOpts = { gridX: leftGridHours, leftX: 128, rightX: 255 };

var lTemp = makePanel(xLeft, d3.scaleLinear().domain([-10, 30]).range([129, 59]), 57, optsOf(leftOpts, { bottom: 134, ticks: leftTempTicks, gridY: [0, 10, 20, 30], frame: "#000", frameWidth: 1 }));
drawTemp(lTemp, { mid: leftMid, max: leftMax, feels: leftFeels, low: leftLow, dew: leftDew, gmax: leftGroundMax, gmin: leftGroundMin, bands: nightLeft, overlay: "rgba(60,40,140,0.12)" });

var lRain = makePanel(xLeft, d3.scaleLinear().domain([0, 2]).range([220, 150]), 143, optsOf(leftOpts, { bottom: 220, ticks: leftRainTicks, leftLabels: leftRainLabels, rightLabels: leftHumLabels, rightColor: HUM, frame: "#000", frameWidth: 1 }));
var yLeftHum = d3.scaleLinear().domain([50, 96]).range([220, 150]);
lRain.g.selectAll(null).data(leftSnow).enter().append("rect")
    .attr("x", function (v, i) { return xLeft(i + 0.35); }).attr("width", xLeft(1) - xLeft(0))
    .attr("y", function (v) { return lRain.y(v); }).attr("height", function (v) { return 220 - lRain.y(v); }).attr("fill", "#1030c0");
lRain.g.selectAll(null).data(leftRain).enter().append("rect")
    .attr("x", function (v, i) { return i === 0 ? xLeft(0) : xLeft(i + 0.2); }).attr("width", function (v, i) { return xLeft(1) - xLeft(0) + (i === 0 ? 2 : 0); })
    .attr("y", function (v) { return lRain.y(v); }).attr("height", function (v) { return 220 - lRain.y(v); }).attr("fill", "#00a800");
lRain.grid();
lRain.g.selectAll(null).data(leftStormHours).enter().append("line")
    .attr("x1", function (d) { return xLeft(d + 0.2); }).attr("x2", function (d) { return xLeft(d + 0.2); })
    .attr("y1", function (d, i) { return i === 0 ? 167 : 147; }).attr("y2", 187).attr("stroke", "#00a800").attr("stroke-width", 1);
lRain.g.selectAll(null).data(leftRainOver).enter().append("rect")
    .attr("x", function (d) { return xLeft(d + 0.2) - 1.5; }).attr("y", 145.5).attr("width", 3).attr("height", 3).attr("fill", "#f00000");
lRain.g.selectAll(null).data(leftStormHours).enter().append("circle")
    .attr("cx", function (d) { return xLeft(d + 0.2); }).attr("cy", 173).attr("r", 2.4)
    .attr("fill", function (d, i) { return leftStormColors[i]; }).attr("stroke", "#000").attr("stroke-width", 0.7);
lRain.g.selectAll(null).data(leftConv).enter().append("rect").attr("class", "crisp")
    .attr("x", function (d) { return xLeft(d) - 1.5; }).attr("y", 217).attr("width", 3).attr("height", 3).attr("fill", "#e01010");
lRain.g.append("path").datum(leftHumidity)
    .attr("d", d3.line().x(function (v, i) { return xLeft(i); }).y(function (v) { return yLeftHum(v); }))
    .attr("fill", "none").attr("stroke", HUM).attr("stroke-width", 1.8);
lRain.finish();

var lPress = makePanel(xLeft, d3.scaleLinear().domain([1012, 1018]).range([301, 231]), 229, optsOf(leftOpts, { bottom: 307, ticks: leftPressureTicks, frame: "#000", frameWidth: 1 }));
drawColumns(lPress, leftPressure, pressColor);
lPress.grid();
lPress.g.append("path").datum(leftPressure)
    .attr("d", d3.line().x(function (v, i) { return xLeft(i); }).y(function (v) { return lPress.y(v); }))
    .attr("fill", "none").attr("stroke", "#111").attr("stroke-width", 2);
lPress.finish();

var lWind = makePanel(xLeft, d3.scaleLinear().domain([0, 20]).range([392, 315]), 315, optsOf(leftOpts, { bottom: 392, ticks: leftWindTicks, rightLabels: leftKmhLabels, gridY: [5, 10, 15], frame: "#000", frameWidth: 1 }));
drawColumns(lWind, leftWind, windColor);
lWind.grid();
lWind.g.append("path").datum(leftWind)
    .attr("d", d3.line().x(function (v, i) { return xLeft(i); }).y(function (v) { return lWind.y(v); }))
    .attr("fill", "none").attr("stroke", "#000090").attr("stroke-width", 2);
drawGusts(lWind, leftGust);
lWind.g.selectAll(null).data(leftGustOver).enter().append("rect")
    .attr("x", function (d) { return xLeft(d) - 1.5; }).attr("y", 316).attr("width", 3).attr("height", 3).attr("fill", "#f00000");
lWind.finish();

var lDir = makePanel(xLeft, d3.scaleLinear().domain([0, 1]).range([431, 398]), 398, { bottom: 431, ticks: [], gridX: leftGridHours, leftX: 128, rightX: 255, frame: "#000", frameWidth: 1 });
lDir.grid();
drawArrows(lDir, leftAngle, 414);
lDir.finish();

var lBase = makePanel(xLeft, d3.scaleLinear().domain(baseTicks).range([514, 495, 475, 456, 436]), 436, optsOf(leftOpts, { bottom: 514, ticks: baseTicks, leftLabels: baseLabels, rightLabels: visLabels, rightColor: ORANGE, gridY: [0.5, 2, 7], frame: "#000", frameWidth: 1 }));
drawBase(lBase, {
    bands: nightLeft, overlay: "rgba(0,30,90,0.08)", white: leftBaseWhite, light: leftBaseLight, grey: leftBaseGrey, dark: leftBaseDark, black: leftBaseBlack,
    top: leftBaseTop, vis: leftVisibility,
    yVis: d3.scaleLinear().domain([0, 1, 5, 20, 100]).range([514, 495, 475, 456, 436])
});

var lCloud = makePanel(xLeft, d3.scaleLinear().domain([0, 8]).range([601, 523]), 524, optsOf(leftOpts, { bottom: 601, ticks: oktaTicks, rightLabels: fogLabels, rightColor: ORANGE, gridY: [2, 4, 6], frame: "#000", frameWidth: 1 }));
drawClouds(lCloud, {
    bands: nightLeft, overlay: "rgba(0,30,90,0.08)", high: leftCloudHigh, mid: leftCloudMid, low: leftCloudLow, veryLow: leftCloudVeryLow, fog: leftFog,
    yFog: d3.scaleLinear().domain([0, 1]).range([601, 523])
});

// ---------- time axes ----------
function timeAxis(x, y, hours, labels, top) {
    var gen = top ? d3.axisTop(x) : d3.axisBottom(x);
    var a = svg.append("g").attr("class", "lab").attr("transform", "translate(0," + y + ")")
        .call(gen.tickValues(hours).tickSize(0).tickPadding(0).tickFormat(function (d, i) { return labels[i]; }));
    a.selectAll("text").attr("fill", "#000").style("font-size", "12px");
}
timeAxis(xMain, 55, labelHours, cestLabels, true);
timeAxis(xMain, 606, labelHours, utcLabels, false);
timeAxis(xLeft, 52, leftLabelHours, leftCestLabels, true);
timeAxis(xLeft, 604, leftLabelHours, leftUtcLabels, false);

// ---------- text ----------
txt(363, 12, "wschód słońca: 05:36 CEST", NAVY, "middle").style("letter-spacing", "0.2px");
txt(363, 25, "zachód słońca: 19:34 CEST", NAVY, "middle").style("letter-spacing", "0.2px");
txt(596, 12, "21°31'43\"E, 53°44'52\"N", NAVY, "middle");
txt(596, 25, "(x=258,  y=362)", NAVY, "middle");
txt(818, 12, "wysokość (min, środek, max)", NAVY, "middle").style("letter-spacing", "0.1px");
txt(818, 25, "128 - 146 - 176 m", NAVY, "middle");
txt(419, 42, "czw, 28.08", "#000", "middle").style("font-size", "13px");
txt(572, 42, "pią, 29.08", "#000", "middle").style("font-size", "13px");
txt(726, 42, "sob, 30.08", "#000", "middle").style("font-size", "13px");
txt(319, 55, "CEST", "#000", "middle");
txt(871, 55, "CEST", "#000", "middle");
txt(319, 616, "UTC", "#000", "middle");
txt(871, 616, "UTC", "#000", "middle");
txt(418, 629, "28.08", "#000", "middle").style("font-size", "12.5px");
txt(572, 629, "29.08", "#000", "middle").style("font-size", "12.5px");
txt(726, 629, "30.08", "#000", "middle").style("font-size", "12.5px");
txt(363, 652, "meteo@icm.edu.pl", NAVY, "middle").style("font-size", "13px");
txt(750, 652, "© 2007-2025 ICM, Uniwersytet Warszawski", NAVY, "middle").style("font-size", "13px");

rot(296, 96, "temperatura");
rot(309, 96, "(°C)");
rot(296, 183, "opad");
rot(309, 183, "(mm/h, kg/m²/h)");
rot(296, 270, "ciśnienie");
rot(309, 270, "(hPa)");
rot(296, 357, "wiatr");
rot(309, 357, "(m/s)");
rot(296, 470, "pion. rozciągł. chm.");
rot(309, 478, "(km)");
rot(296, 567, "zachmurzenie");
rot(309, 565, "(oktanty)");
rot(895, 96, "(°C)");
rot(908, 96, "temperatura");
rot(895, 183, "(%)");
rot(908, 183, "wilgotność wzgl.");
rot(895, 270, "(mm Hg)");
rot(908, 270, "ciśnienie");
rot(895, 357, "(km/h)");
rot(908, 357, "wiatr");
rot(895, 478, "(km)");
rot(908, 478, "widzialność");
rot(895, 565, "(frakcja)");
rot(908, 565, "mgła");

// compass next to the direction plot
txt(881, 421, "W", NAVY).style("font-size", "13px");
txt(893, 410, "N", NAVY).style("font-size", "13px");
txt(900, 419, "E", NAVY).style("font-size", "13px");
txt(893, 428, "S", NAVY).style("font-size", "13px");

// left legend
cap(5, 18, "Czas lokalny");
cap(5, 31, "(CET/CEST)", "#000", 10.5);
leader([[68, 16], [133, 16], [157, 46]], "#000");
cap(5, 47, "Temperatura gruntu", BROWN);
cap(27, 57, "max/min", BROWN);
leader([[103, 44], [120, 44], [152, 85]], BROWN);
cap(5, 69, "Temperatura:");
cap(12, 81, "punkt środkowy", "#f00000");
leader([[91, 76], [115, 76]], "#f00000");
leader([[130, 76], [136, 77], [152, 100], [158, 102]], "#f00000");
cap(27, 91, "max/min", "#ffd8d0");
cap(9, 103, "odczuwana", "#0000e0");
leader([[70, 99], [135, 99]], "#0000e0");
cap(27, 113, "max/min", "#a8d8ff");
cap(5, 124, "Temp. punktu rosy", DEW);
leader([[93, 120], [120, 120], [135, 113]], DEW);
cap(5, 142, "Opad powyżej skali", "#f00000");
leader([[102, 137], [136, 137], [146, 146]], "#f00000");
cap(5, 155, "Wilgotność względna", HUM);
leader([[105, 151], [112, 151]], HUM);
leader([[130, 151], [137, 153], [146, 165]], HUM);
cap(5, 170, "Wystąpienie burzy");
leader([[92, 166], [112, 166]], "#000");
leader([[129, 166], [134, 166], [137, 171]], "#000");
cap(5, 184, "Deszcz: max", "#00a800");
leader([[71, 179], [140, 179]], "#00a800");
cap(48, 195, "średni", "#00a800");
leader([[80, 190], [140, 190]], "#00a800");
cap(5, 206, "Śnieg:", "#1030c0");
cap(48, 206, "max", "#1030c0");
leader([[70, 202], [112, 202]], "#1030c0");
leader([[129, 202], [135, 202], [160, 171]], "#1030c0");
cap(48, 217, "średni", "#1030c0");
leader([[80, 213], [135, 213], [152, 192]], "#1030c0");
cap(5, 228, "Wystąpienie opadu", "#f00000");
cap(5, 241, "konwekcyjnego", "#f00000");
leader([[96, 224], [142, 224], [147, 219]], "#f00000");
cap(5, 267, "Ciśnienie");
leader([[52, 264], [125, 264], [135, 262]], "#000");
cap(5, 280, "zredukowane");
cap(5, 293, "do poziomu morza");
cap(5, 323, "Wiatr na 10m:");
cap(10, 339, "poryw powyżej skali", "#f00000");
leader([[112, 335], [118, 335]], "#f00000");
leader([[129, 335], [133, 330], [138, 316]], "#f00000");
cap(10, 352, "max porywy wiatru", "#f00000");
leader([[107, 348], [130, 348], [148, 340]], "#f00000");
cap(10, 372, "prędkość wiatru", NAVY);
leader([[92, 367], [135, 367]], NAVY);
cap(10, 385, "w środku obszaru", NAVY);
cap(10, 413, "kierunek wiatru", NAVY);
leader([[86, 410], [142, 410]], NAVY);
cap(5, 433, "Wierzchołek chmur", BROWN);
leader([[100, 430], [135, 430], [186, 446]], BROWN);
cap(5, 449, "Podstawa chmur*");
cap(5, 460, "o pokryciu");
cap(10, 472, "> 7.9 okt.");
leader([[58, 468], [135, 468], [190, 457]], "#000");
cap(10, 484, "> 6.5 okt.", "#555");
leader([[58, 480], [143, 480]], "#555");
cap(10, 494, "> 4.5 okt.", "#aaa");
leader([[58, 490], [130, 490], [143, 503]], "#999");
cap(10, 505, "> 2.5 okt.", "#ddd");
leader([[58, 500], [130, 500], [138, 505]], "#ccc");
svg.append("rect").attr("x", 11).attr("y", 506).attr("width", 44).attr("height", 12).attr("fill", SKY);
cap(12, 516, "> 0.1 okt.", "#fff");
leader([[56, 509], [135, 509]], SKY);
leader([[56, 511], [135, 511]], SKY);
cap(5, 531, "Widzialność", ORANGE);
leader([[67, 527], [130, 527], [172, 465]], ORANGE);
cap(5, 548, "Chmury:");
svg.append("rect").attr("x", 10).attr("y", 551).attr("width", 41).attr("height", 12).attr("fill", SKY);
cap(11, 561, "wysokie", "#fff");
leader([[54, 556], [186, 556]], SKY);
leader([[54, 558], [186, 558]], SKY);
cap(10, 573, "średnie", "#999");
leader([[50, 571], [193, 571]], "#999");
cap(10, 585, "niskie", "#333");
leader([[40, 582], [122, 582]], "#333");
cap(10, 597, "bardzo niskie", "#000");
leader([[75, 594], [135, 594]], "#000");
cap(5, 609, "Mgła", "#ffb400");
leader([[30, 605], [217, 605], [220, 598]], "#ffb400");
cap(5, 626, "Czas uniwersalny (UTC)", "#000", 12);
leader([[138, 623], [148, 623], [158, 608]], "#000");
cap(5, 651, "* powyżej poziomu morza", "#000", 9).style("font-weight", "bold");
</script>
</body>
</html>
